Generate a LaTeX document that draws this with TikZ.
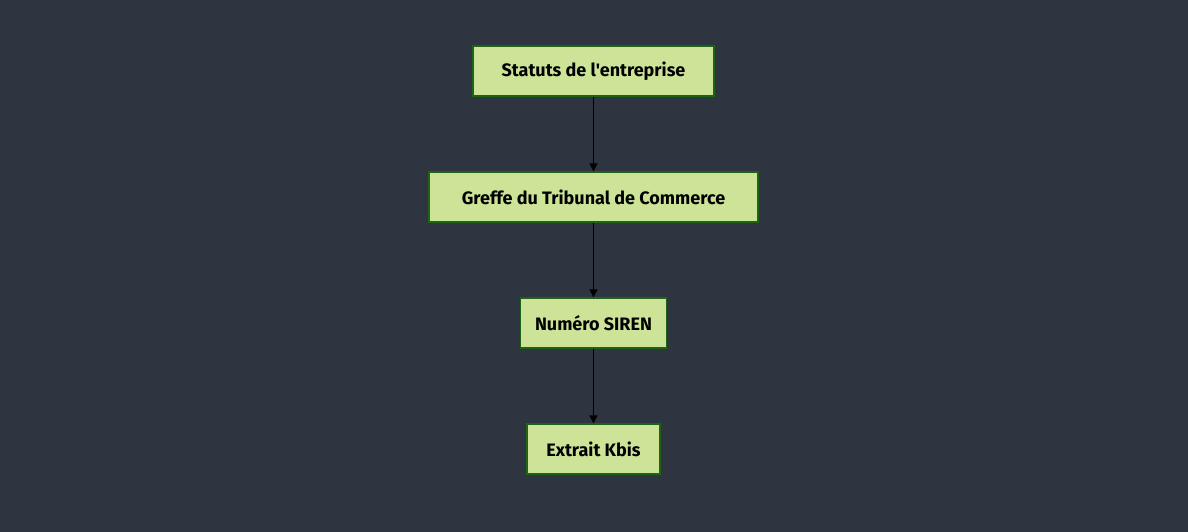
\documentclass[tikz,border=0pt]{standalone}
\usepackage{fontspec}
\setmainfont{Fira Sans}[Ligatures=TeXOff]
\usetikzlibrary{arrows.meta}
\definecolor{bg}{RGB}{46,52,64}
\definecolor{boxfill}{RGB}{205,228,152}
\definecolor{boxline}{RGB}{30,100,20}
\tikzset{
  box/.style={draw=boxline, fill=boxfill, line width=1.2bp, minimum height=50bp, inner xsep=0pt, font=\fontsize{18bp}{21bp}\fontseries{sb}\selectfont, text=black},
  conn/.style={draw=black, line width=1.6bp, -{Triangle[length=8bp,width=8bp]}}
}
\begin{document}
\begin{tikzpicture}[x=1bp,y=-1bp]
\fill[bg] (0,0) rectangle (1188,532);
\useasboundingbox (0,0) rectangle (1188,532);
\node[box, minimum width=241bp] (a) at (593.5,71) {Statuts de l'entreprise};
\node[box, minimum width=329bp] (b) at (593.5,197) {Greffe du Tribunal de Commerce};
\node[box, minimum width=146bp] (c) at (593.5,323) {Numéro SIREN};
\node[box, minimum width=133bp] (d) at (593.5,449) {Extrait Kbis};
\draw[conn] (a) -- (b);
\draw[conn] (b) -- (c);
\draw[conn] (c) -- (d);
\end{tikzpicture}
\end{document}
